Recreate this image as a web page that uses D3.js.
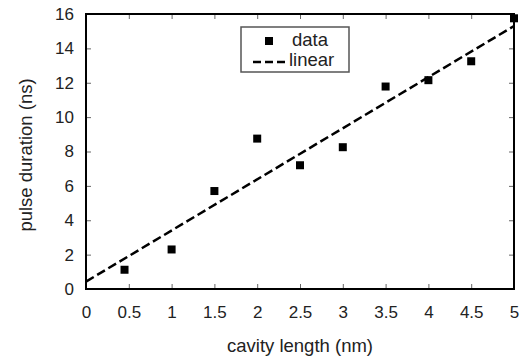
<!DOCTYPE html>
<html>
<head>
<meta charset="utf-8">
<script src="https://cdn.jsdelivr.net/npm/d3@7"></script>
<style>
  body { margin: 0; background: #fff; }
  text { font-family: "Liberation Sans", Arial, sans-serif; fill: #222; }
</style>
</head>
<body>
<div id="chart"></div>
<script>
const width = 526
const height = 359
const margin = { top: 14, right: 12, bottom: 70, left: 86 }

// measured points
const cavityLength = [0.45, 1, 1.5, 2, 2.5, 3, 3.5, 4, 4.5, 5]
const pulseDuration = [1.12, 2.3, 5.7, 8.75, 7.2, 8.25, 11.78, 12.15, 13.25, 15.75]
// linear fit, drawn from its two ends
const fitX = [0, 5]
const fitY = [0.43, 15.3]

const xTicks = [0, 0.5, 1, 1.5, 2, 2.5, 3, 3.5, 4, 4.5, 5]
const yTicks = [0, 2, 4, 6, 8, 10, 12, 14, 16]

const data = cavityLength.map((d, i) => ({ x: d, y: pulseDuration[i] }))
const fit = fitX.map((d, i) => ({ x: d, y: fitY[i] }))

const innerW = width - margin.left - margin.right
const innerH = height - margin.top - margin.bottom

const svg = d3.select("div#chart").append("svg").attr("width", width).attr("height", height)
const g = svg.append("g").attr("transform", `translate(${margin.left}, ${margin.top})`)

const x = d3.scaleLinear().domain([0, 5]).range([0, innerW])
const y = d3.scaleLinear().domain([0, 16]).range([innerH, 0])

// inward ticks on all four sides
const tickStyle = sel => {
    sel.select(".domain").remove()
    sel.selectAll(".tick line").attr("stroke", "#666").attr("stroke-width", 1)
}
g.append("g").attr("transform", `translate(0, ${innerH})`)
    .call(d3.axisBottom(x).tickValues(xTicks).tickSize(-5).tickPadding(17).tickFormat(d3.format("")))
    .call(tickStyle)
    .selectAll("text").attr("font-size", 17).attr("font-family", "Liberation Sans, Arial, sans-serif").attr("fill", "#222")
g.append("g")
    .call(d3.axisTop(x).tickValues(xTicks).tickSize(-5).tickFormat(""))
    .call(tickStyle)
g.append("g")
    .call(d3.axisLeft(y).tickValues(yTicks).tickSize(-5).tickPadding(12))
    .call(tickStyle)
    .selectAll("text").attr("font-size", 17).attr("font-family", "Liberation Sans, Arial, sans-serif").attr("fill", "#222")
g.append("g").attr("transform", `translate(${innerW}, 0)`)
    .call(d3.axisRight(y).tickValues(yTicks).tickSize(-5).tickFormat(""))
    .call(tickStyle)

// frame
g.append("rect").attr("width", innerW).attr("height", innerH)
    .attr("fill", "none").attr("stroke", "#000").attr("stroke-width", 2)

// fit line
const line = d3.line().x(d => x(d.x)).y(d => y(d.y))
g.append("path").datum(fit)
    .attr("d", line)
    .attr("fill", "none").attr("stroke", "#000")
    .attr("stroke-width", 2.5).attr("stroke-dasharray", "9,4")

// data squares
const s = 8
g.selectAll("rect.pt").data(data).enter().append("rect")
    .attr("class", "pt")
    .attr("x", d => x(d.x) - s / 2)
    .attr("y", d => y(d.y) - s / 2)
    .attr("width", s).attr("height", s)
    .attr("fill", "#000")

// axis titles
svg.append("text").text("cavity length (nm)")
    .attr("x", margin.left + innerW / 2).attr("y", 352)
    .attr("text-anchor", "middle").attr("font-size", 18.5)
svg.append("text").text("pulse duration (ns)")
    .attr("transform", `translate(32, 155) rotate(-90)`)
    .attr("text-anchor", "middle").attr("font-size", 18.5)

// legend
const legend = svg.append("g")
legend.append("rect").attr("x", 241).attr("y", 27).attr("width", 108).attr("height", 45)
    .attr("fill", "#fff").attr("stroke", "#555").attr("stroke-width", 1.5)
legend.append("rect").attr("x", 269 - s / 2).attr("y", 41 - s / 2).attr("width", s).attr("height", s).attr("fill", "#000")
legend.append("line").attr("x1", 253).attr("x2", 287).attr("y1", 62).attr("y2", 62)
    .attr("stroke", "#000").attr("stroke-width", 2.5).attr("stroke-dasharray", "8,4")
legend.append("text").text("data").attr("x", 292).attr("y", 46).attr("font-size", 18.5)
legend.append("text").text("linear").attr("x", 289).attr("y", 66).attr("font-size", 18.5)
</script>
</body>
</html>
